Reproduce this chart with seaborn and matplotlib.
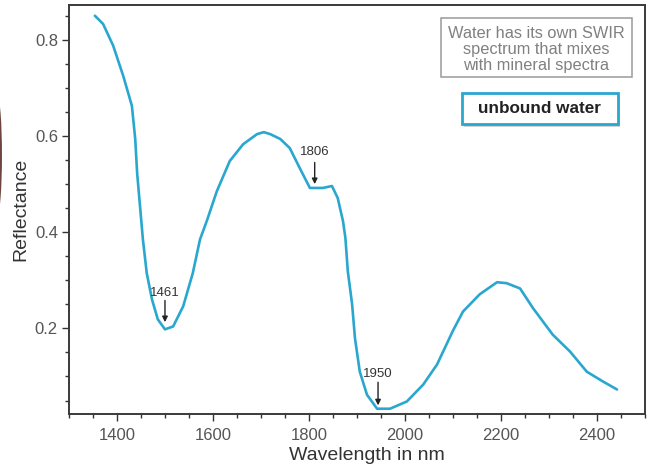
import numpy as np
import pandas as pd
import matplotlib
matplotlib.use("Agg")
import matplotlib.pyplot as plt
from matplotlib.ticker import MultipleLocator
from matplotlib.patches import Rectangle, Ellipse
import seaborn as sns

# Spectrum (wavelength nm, reflectance)
wavelength = [1354, 1371, 1392, 1413, 1431, 1438, 1442, 1448, 1454, 1462, 1473, 1485, 1500,
              1517, 1538, 1558, 1573, 1587, 1608, 1635, 1663, 1692, 1706, 1719, 1740, 1760,
              1781, 1802, 1829, 1848, 1860, 1871, 1876, 1881, 1890, 1896, 1906, 1921, 1942,
              1969, 2004, 2038, 2067, 2100, 2121, 2156, 2192, 2212, 2240, 2267, 2308, 2344,
              2379, 2412, 2442]
reflectance = [0.850, 0.833, 0.788, 0.725, 0.663, 0.594, 0.523, 0.454, 0.385, 0.315, 0.260,
               0.219, 0.198, 0.204, 0.246, 0.315, 0.385, 0.423, 0.485, 0.548, 0.583, 0.604,
               0.608, 0.604, 0.594, 0.575, 0.533, 0.492, 0.492, 0.496, 0.471, 0.423, 0.388,
               0.319, 0.250, 0.179, 0.110, 0.062, 0.033, 0.033, 0.048, 0.083, 0.125, 0.195,
               0.235, 0.271, 0.296, 0.294, 0.283, 0.242, 0.187, 0.152, 0.110, 0.090, 0.073]

peak_labels = ["1461", "1806", "1950"]
peak_x = [1500, 1812, 1944]
peak_tip_y = [0.213, 0.500, 0.040]
peak_tail_y = [0.258, 0.545, 0.088]
peak_text_y = [0.274, 0.566, 0.105]

note_text = "Water has its own SWIR\nspectrum that mixes\nwith mineral spectra"
tag_text = "unbound water"

df = pd.DataFrame({"Wavelength": wavelength, "Reflectance": reflectance})

sns.set_style("white")
plt.rcParams['font.family'] = ['Liberation Sans', 'DejaVu Sans']

fig = plt.figure(figsize=(6.54, 4.71), dpi=100)
ax = fig.add_axes([0.1055, 0.121, 0.8805, 0.868])

line_color = "#2aa7cf"
sns.lineplot(data=df, x="Wavelength", y="Reflectance", ax=ax, color=line_color,
             linewidth=1.9, sort=False)

ax.set_xlim(1300, 2500)
ax.set_ylim(0.022, 0.872)
ax.xaxis.set_minor_locator(MultipleLocator(50))
ax.yaxis.set_minor_locator(MultipleLocator(0.05))
ax.set_xticks([1400, 1600, 1800, 2000, 2200, 2400])
ax.set_yticks([0.2, 0.4, 0.6, 0.8])
ax.set_yticklabels(["0.2", "0.4", "0.6", "0.8"])

for s in ax.spines.values():
    s.set_color("#3a3a3a")
    s.set_linewidth(1.4)
ax.tick_params(axis="both", which="major", direction="out", length=5, width=1,
               color="#333333", labelsize=12, labelcolor="#555555", pad=3,
               bottom=True, left=True)
ax.tick_params(axis="x", which="major", pad=5)
ax.tick_params(axis="both", which="minor", direction="out", length=3, width=1,
               color="#333333", bottom=True, left=True)

ax.set_xlabel("Wavelength in nm", fontsize=14, color="#333333", labelpad=3, x=0.517)
ax.set_ylabel("Reflectance", fontsize=14, color="#333333", labelpad=4)

for lab, px, ty, tl, tt in zip(peak_labels, peak_x, peak_tip_y, peak_tail_y, peak_text_y):
    ax.annotate("", xy=(px, ty), xytext=(px, tl),
                arrowprops=dict(arrowstyle="-|>", color="#222222", lw=1,
                                mutation_scale=8, shrinkA=0, shrinkB=0))
    ax.text(px, tt, lab, ha="center", va="center", fontsize=9.5, color="#333333")

# note box
ax.add_patch(Rectangle((0.646, 0.824), 0.331, 0.144, transform=ax.transAxes,
                       fc="white", ec="#9a9a9a", lw=1.1, zorder=4))
ax.text(0.8116, 0.891, note_text, transform=ax.transAxes, ha="center", va="center",
        fontsize=11.8, color="#808080", linespacing=1.08, zorder=5)

# tag box with soft shadow
ax.add_patch(Rectangle((0.686, 0.703), 0.271, 0.076, transform=ax.transAxes,
                       fc="#d0d0d0", ec="none", lw=0, zorder=3))
ax.add_patch(Rectangle((0.682, 0.709), 0.271, 0.076, transform=ax.transAxes,
                       fc="white", ec=line_color, lw=2, zorder=4))
ax.text(0.8175, 0.748, tag_text, transform=ax.transAxes, ha="center", va="center",
        fontsize=12.3, fontweight="bold", color="#222222", zorder=5)

# dark blob at the left edge of the original picture
fig.patches.append(Ellipse((-0.004, 0.67), 0.014, 0.25, transform=fig.transFigure,
                           fc="#4a1510", ec="none", alpha=0.8, figure=fig))

fig.savefig("out.png", dpi=100)
